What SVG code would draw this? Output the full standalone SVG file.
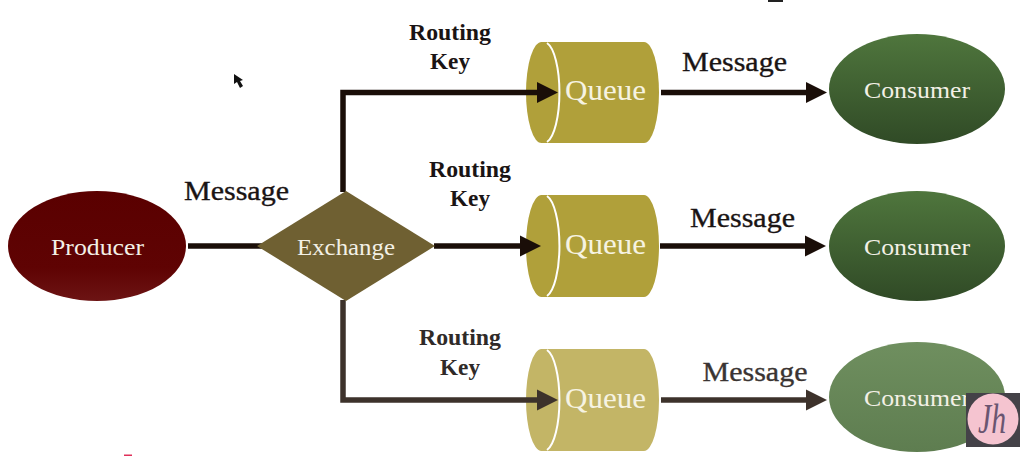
<svg xmlns="http://www.w3.org/2000/svg" width="1020" height="456" viewBox="0 0 1020 456">
<style>
text{font-family:"Liberation Serif","Times New Roman",serif;text-anchor:middle}
.m{font-size:28px;fill:#1a1414;stroke:#1a1414;stroke-width:.35}
.r{font-size:23px;font-weight:bold;fill:#1a1414}
.q{font-size:29px;fill:#f6f3e2}
.n{font-size:23px;fill:#f3f0e6}
.c{fill:none;stroke:#1a0e08;stroke-width:5.5}
.c3{fill:none;stroke:#3d322b;stroke-width:5.5}
.h{fill:#1a0e08}
.h3{fill:#3d322b}
.cap{fill:none;stroke:#fff;stroke-width:2}
</style>
<defs>
<linearGradient id="gp" x1="0" y1="0" x2="0" y2="1"><stop offset="0" stop-color="#5a0000"/><stop offset=".7" stop-color="#5f0303"/><stop offset="1" stop-color="#6c1414"/></linearGradient>
<linearGradient id="gc" x1="0" y1="0" x2="0" y2="1"><stop offset="0" stop-color="#4f763d"/><stop offset="1" stop-color="#304a26"/></linearGradient>
<linearGradient id="gc3" x1="0" y1="0" x2="0" y2="1"><stop offset="0" stop-color="#6f8f5f"/><stop offset="1" stop-color="#5e7d50"/></linearGradient>
</defs>
<rect width="1020" height="456" fill="#fff"/>
<g id="consumer1"><ellipse cx="917" cy="89" rx="88" ry="55" fill="url(#gc)"/><text class="n" x="917" y="98" textLength="106" lengthAdjust="spacingAndGlyphs">Consumer</text></g>
<g id="consumer2"><ellipse cx="917" cy="246" rx="88" ry="55" fill="url(#gc)"/><text class="n" x="917" y="255" textLength="106" lengthAdjust="spacingAndGlyphs">Consumer</text></g>
<g id="consumer3"><ellipse cx="917" cy="397" rx="88" ry="55" fill="url(#gc3)"/><text class="n" x="917" y="406" textLength="106" lengthAdjust="spacingAndGlyphs">Consumer</text></g>
<g id="queue1"><path d="M541.500 42H644A15 50.500 0 0 1 644 143H541.500A15.500 50.500 0 0 1 541.500 42Z" fill="#b0a03a"/><path class="cap" d="M547 43A15.500 50.500 0 0 1 547 142"/><text class="q" x="605.500" y="100" textLength="81" lengthAdjust="spacingAndGlyphs">Queue</text></g>
<g id="queue2"><path d="M541.500 195H644A15 51 0 0 1 644 297H541.500A15.500 51 0 0 1 541.500 195Z" fill="#b0a03a"/><path class="cap" d="M547 196A15.500 51 0 0 1 547 296"/><text class="q" x="605.500" y="254" textLength="81" lengthAdjust="spacingAndGlyphs">Queue</text></g>
<g id="queue3"><path d="M541.500 349H644A15 51 0 0 1 644 451H541.500A15.500 51 0 0 1 541.500 349Z" fill="#c3b566"/><path class="cap" d="M547 350A15.500 51 0 0 1 547 450"/><text class="q" x="605.500" y="408" textLength="81" lengthAdjust="spacingAndGlyphs">Queue</text></g>
<g id="connectors">
<path class="c" d="M188 246H262"/>
<path class="c" d="M343 192V92.500H540"/>
<path class="h" d="M537 82L558 92.500L537 103Z"/>
<path class="c" d="M434 246H522"/>
<path class="h" d="M520 235.500L541 246L520 256.500Z"/>
<path class="c3" d="M343 300V400H540"/>
<path class="h3" d="M537 389.500L558 400L537 410.500Z"/>
<path class="c" d="M661 92.500H808"/>
<path class="h" d="M806 82L827 92.500L806 103Z"/>
<path class="c" d="M660 246H807"/>
<path class="h" d="M805 235.500L826 246L805 256.500Z"/>
<path class="c3" d="M661 400H808"/>
<path class="h3" d="M806 389.500L827 400L806 410.500Z"/>
</g>
<g id="producer"><ellipse cx="97" cy="246" rx="89" ry="55" fill="url(#gp)"/><text class="n" x="97.500" y="255" textLength="93" lengthAdjust="spacingAndGlyphs">Producer</text></g>
<g id="exchange"><path d="M346 191L435 246L346 301L257 246Z" fill="#6f6032"/><text class="n" x="346" y="255" textLength="98" lengthAdjust="spacingAndGlyphs">Exchange</text></g>
<g id="labels">
<text class="m" x="236.500" y="200" textLength="105" lengthAdjust="spacingAndGlyphs">Message</text>
<text class="m" x="734.500" y="71" textLength="105" lengthAdjust="spacingAndGlyphs">Message</text>
<text class="m" x="742.500" y="227" textLength="105" lengthAdjust="spacingAndGlyphs">Message</text>
<text class="m" x="755" y="381" textLength="105" lengthAdjust="spacingAndGlyphs" style="fill:#3a3432;stroke:#3a3432">Message</text>
<text class="r" x="450" y="40" textLength="82" lengthAdjust="spacingAndGlyphs">Routing</text><text class="r" x="450" y="69" textLength="40" lengthAdjust="spacingAndGlyphs">Key</text>
<text class="r" x="470" y="177" textLength="82" lengthAdjust="spacingAndGlyphs">Routing</text><text class="r" x="470" y="206" textLength="40" lengthAdjust="spacingAndGlyphs">Key</text>
<text class="r" x="460" y="345" textLength="82" lengthAdjust="spacingAndGlyphs" style="fill:#2f2a28">Routing</text><text class="r" x="460" y="375" textLength="40" lengthAdjust="spacingAndGlyphs" style="fill:#2f2a28">Key</text>
</g>
<path d="M234 74L234 84L237 82L240 88L243 86L240 81L243 80Z" fill="#111"/>
<rect x="768" y="0" width="15" height="2" fill="#222"/>
<rect x="124" y="454.500" width="8" height="1.500" fill="#e0305a"/>
<g id="watermark"><rect x="966" y="393" width="54" height="54" fill="#444248"/><circle cx="993" cy="419" r="25.500" fill="#f5c4d0"/><text x="992" y="433" style="font-size:42px;font-style:italic;fill:#6a5570" textLength="28" lengthAdjust="spacingAndGlyphs">Jh</text></g>
</svg>
